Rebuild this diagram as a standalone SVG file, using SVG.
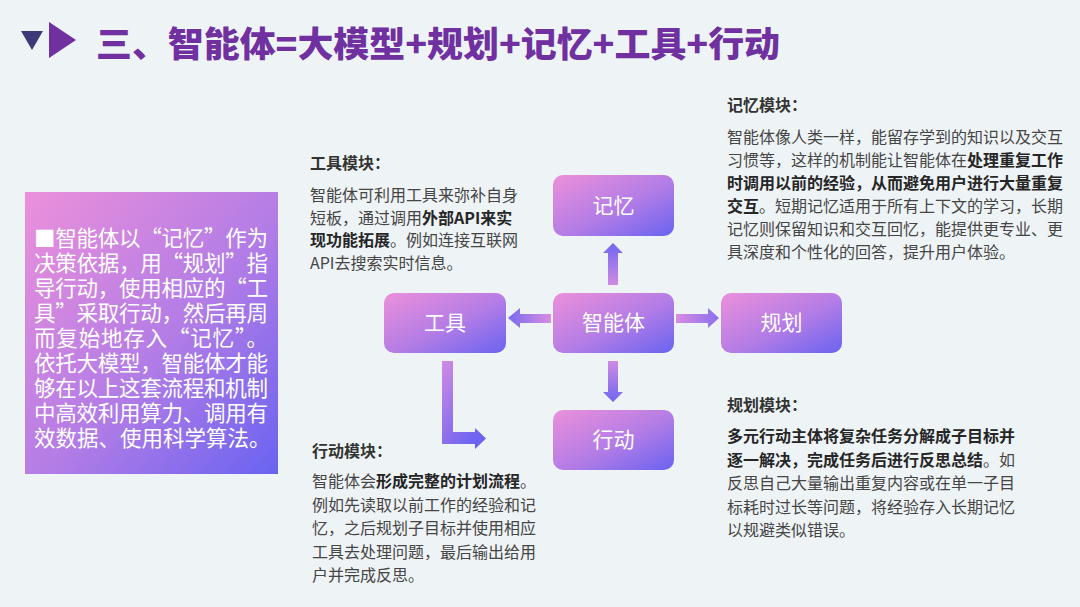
<svg xmlns="http://www.w3.org/2000/svg" width="1080" height="607" viewBox="0 0 1080 607">
<defs>
<linearGradient id="gNode" x1="0" y1="0" x2="1" y2="1">
<stop offset="0" stop-color="#ec90da"/>
<stop offset="0.55" stop-color="#b27ce6"/>
<stop offset="1" stop-color="#6963f1"/>
</linearGradient>
<linearGradient id="gUp" x1="0" y1="1" x2="0" y2="0">
<stop offset="0" stop-color="#cf8ae4"/>
<stop offset="1" stop-color="#7067ef"/>
</linearGradient>
<linearGradient id="gDown" x1="0" y1="0" x2="0" y2="1">
<stop offset="0" stop-color="#cf8ae4"/>
<stop offset="1" stop-color="#7067ef"/>
</linearGradient>
<linearGradient id="gRight" x1="0" y1="0" x2="1" y2="0">
<stop offset="0" stop-color="#d88ce2"/>
<stop offset="1" stop-color="#8b70ee"/>
</linearGradient>
<linearGradient id="gLeft" x1="1" y1="0" x2="0" y2="0">
<stop offset="0" stop-color="#d88ce2"/>
<stop offset="1" stop-color="#7a6aef"/>
</linearGradient>
<linearGradient id="gL" x1="0" y1="0" x2="0.6" y2="1">
<stop offset="0" stop-color="#d08ae4"/>
<stop offset="1" stop-color="#6c64f0"/>
</linearGradient>
</defs>
<style>
.cjk{font-family:"Noto Sans CJK SC","Noto Sans",sans-serif}
.title{font-size:35px;font-weight:900;fill:#7030a0}
.panel{font-size:21.5px;fill:#ffffff}
.node{fill:url(#gNode)}
.nlabel{font-size:21px;fill:#ffffff;text-anchor:middle}
.head{font-size:16px;font-weight:700;fill:#333333}
.body{font-size:16px;fill:#454545}
.b{font-weight:700;fill:#262626}
</style>
<rect x="0" y="0" width="1080" height="607" fill="#eef3f6"/>

<g id="title">
<polygon points="21,31 43,31 32,50" fill="#3e3a78"/>
<polygon points="49,22 76,40 49,58" fill="#7030a0"/>
<text class="cjk title" x="96" y="57" textLength="684" lengthAdjust="spacingAndGlyphs">三、智能体=大模型+规划+记忆+工具+行动</text>
</g>

<g id="summary-panel">
<rect x="25" y="192" width="253" height="282" fill="url(#gNode)"/>
<text class="cjk panel">
<tspan x="34" y="246" textLength="234" lengthAdjust="spacing">■智能体以“记忆”作为</tspan>
<tspan x="34" y="271" textLength="234" lengthAdjust="spacing">决策依据，用“规划”指</tspan>
<tspan x="34" y="296" textLength="234" lengthAdjust="spacing">导行动，使用相应的“工</tspan>
<tspan x="34" y="321" textLength="234" lengthAdjust="spacing">具”采取行动，然后再周</tspan>
<tspan x="34" y="346" textLength="234" lengthAdjust="spacing">而复始地存入“记忆”。</tspan>
<tspan x="34" y="371" textLength="234" lengthAdjust="spacing">依托大模型，智能体才能</tspan>
<tspan x="34" y="396" textLength="234" lengthAdjust="spacing">够在以上这套流程和机制</tspan>
<tspan x="34" y="421" textLength="234" lengthAdjust="spacing">中高效利用算力、调用有</tspan>
<tspan x="34" y="446">效数据、使用科学算法。</tspan>
</text>
</g>

<g id="connectors">
<polygon points="608,285 608,253 603,253 613,243 623,253 618,253 618,285" fill="url(#gUp)"/>
<polygon points="608,361 608,392 603,392 613,402 623,392 618,392 618,361" fill="url(#gDown)"/>
<polygon points="676,314 708,314 708,308 719,318 708,328 708,323 676,323" fill="url(#gRight)"/>
<polygon points="551,314 520,314 520,308 508,318 520,328 520,323 551,323" fill="url(#gLeft)"/>
<polygon points="442,361 453,361 453,432 475,432 475,428 486,438.5 475,449 475,444 442,444" fill="url(#gL)"/>
</g>

<g id="node-memory">
<rect class="node" x="553" y="175" width="121" height="61" rx="10"/>
<text class="cjk nlabel" x="613.5" y="213">记忆</text>
</g>
<g id="node-agent">
<rect class="node" x="553" y="293" width="121" height="60" rx="10"/>
<text class="cjk nlabel" x="613.5" y="330">智能体</text>
</g>
<g id="node-tools">
<rect class="node" x="384" y="293" width="122" height="60" rx="10"/>
<text class="cjk nlabel" x="445" y="330">工具</text>
</g>
<g id="node-plan">
<rect class="node" x="721" y="293" width="121" height="60" rx="10"/>
<text class="cjk nlabel" x="781.5" y="330">规划</text>
</g>
<g id="node-action">
<rect class="node" x="553" y="410" width="121" height="60" rx="10"/>
<text class="cjk nlabel" x="613.5" y="447">行动</text>
</g>

<g id="desc-tools">
<text class="cjk head" x="310" y="169">工具模块：</text>
<text class="cjk body">
<tspan x="310" y="201">智能体可利用工具来弥补自身</tspan>
<tspan x="310" y="224">短板，通过调用<tspan class="b">外部API来实</tspan></tspan>
<tspan x="310" y="246"><tspan class="b">现功能拓展</tspan>。例如连接互联网</tspan>
<tspan x="310" y="269">API去搜索实时信息。</tspan>
</text>
</g>

<g id="desc-memory">
<text class="cjk head" x="727" y="111">记忆模块：</text>
<text class="cjk body">
<tspan x="727" y="143">智能体像人类一样，能留存学到的知识以及交互</tspan>
<tspan x="727" y="166">习惯等，这样的机制能让智能体在<tspan class="b">处理重复工作</tspan></tspan>
<tspan x="727" y="189" class="b">时调用以前的经验，从而避免用户进行大量重复</tspan>
<tspan x="727" y="212"><tspan class="b">交互</tspan>。短期记忆适用于所有上下文的学习，长期</tspan>
<tspan x="727" y="235">记忆则保留知识和交互回忆，能提供更专业、更</tspan>
<tspan x="727" y="258">具深度和个性化的回答，提升用户体验。</tspan>
</text>
</g>

<g id="desc-action">
<text class="cjk head" x="312" y="457">行动模块：</text>
<text class="cjk body">
<tspan x="312" y="487">智能体会<tspan class="b">形成完整的计划流程</tspan>。</tspan>
<tspan x="312" y="510.5">例如先读取以前工作的经验和记</tspan>
<tspan x="312" y="534">忆，之后规划子目标并使用相应</tspan>
<tspan x="312" y="557.5">工具去处理问题，最后输出给用</tspan>
<tspan x="312" y="581">户并完成反思。</tspan>
</text>
</g>

<g id="desc-plan">
<text class="cjk head" x="727" y="411">规划模块：</text>
<text class="cjk body">
<tspan x="727" y="442" class="b">多元行动主体将复杂任务分解成子目标并</tspan>
<tspan x="727" y="465.5"><tspan class="b">逐一解决，完成任务后进行反思总结</tspan>。如</tspan>
<tspan x="727" y="489">反思自己大量输出重复内容或在单一子目</tspan>
<tspan x="727" y="512.5">标耗时过长等问题，将经验存入长期记忆</tspan>
<tspan x="727" y="536">以规避类似错误。</tspan>
</text>
</g>
</svg>
